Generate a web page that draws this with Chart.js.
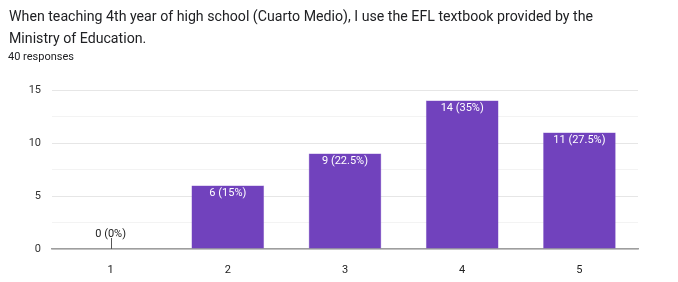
<!DOCTYPE html>
<html>
<head>
<meta charset="utf-8">
<script src="https://cdn.jsdelivr.net/npm/chart.js@4/dist/chart.umd.min.js"></script>
<style>
  html, body { margin: 0; padding: 0; background: #fff; }
  #wrap { position: relative; width: 678px; height: 282px; overflow: hidden; }
  #chart { position: absolute; left: 0; top: 0; }
  .head { position: absolute; left: 9px; font-family: Roboto, sans-serif; color: #202124;
          white-space: nowrap; transform-origin: 0 0; }
  #q1 { top: 8px; font-size: 14.5px; line-height: 18px; }
  #q2 { top: 30px; font-size: 14.5px; line-height: 18px; }
  #resp { top: 50px; left: 8px; font-size: 11px; line-height: 14px; }
</style>
</head>
<body>
<div id="wrap">
  <canvas id="chart" width="678" height="282"></canvas>
  <div class="head" id="q1">When teaching 4th year of high school (Cuarto Medio), I use the EFL textbook provided by the</div>
  <div class="head" id="q2">Ministry of Education.</div>
  <div class="head" id="resp">40 responses</div>
</div>
<script>
// answers on the 1-5 scale and how many people picked each
const categories = ['1', '2', '3', '4', '5'];
const counts = [0, 6, 9, 14, 11];
const percents = ['0%', '15%', '22.5%', '35%', '27.5%'];
const yTicks = [0, 5, 10, 15];

const BAR_COLOR = '#7142bd';
const FONT = 'Roboto, sans-serif';

// fit the question text to the width it has in the screenshot
const q1 = document.getElementById('q1');
const sx = 584 / q1.getBoundingClientRect().width;
['q1', 'q2'].forEach(id => {
  document.getElementById(id).style.transform = 'scaleX(' + sx + ')';
});

// value labels: inside bar top in white, above the axis for empty bars
const barLabels = {
  id: 'barLabels',
  afterDatasetsDraw(chart) {
    const ctx = chart.ctx;
    const meta = chart.getDatasetMeta(0);
    ctx.save();
    ctx.font = '11px ' + FONT;
    ctx.textAlign = 'center';
    ctx.textBaseline = 'middle';
    meta.data.forEach((bar, i) => {
      const text = counts[i] + ' (' + percents[i] + ')';
      if (counts[i] === 0) {
        ctx.strokeStyle = '#555';
        ctx.lineWidth = 1;
        ctx.beginPath();
        ctx.moveTo(Math.round(bar.x) + 0.5, bar.y);
        ctx.lineTo(Math.round(bar.x) + 0.5, bar.y - 11);
        ctx.stroke();
        ctx.fillStyle = '#222';
        ctx.fillText(text, bar.x, bar.y - 15);
      } else {
        ctx.fillStyle = '#fff';
        ctx.fillText(text, bar.x, bar.y + 8);
      }
    });
    ctx.restore();
  }
};

new Chart(document.getElementById('chart'), {
  type: 'bar',
  data: {
    labels: categories,
    datasets: [{
      data: counts,
      backgroundColor: BAR_COLOR,
      borderColor: '#8a66cc',
      borderWidth: 0.5,
      barPercentage: 0.62,
      categoryPercentage: 1
    }]
  },
  options: {
    responsive: false,
    animation: false,
    layout: { padding: { top: 90, right: 40, left: 0, bottom: 0 } },
    plugins: { legend: { display: false }, tooltip: { enabled: false } },
    scales: {
      x: {
        grid: { display: false },
        border: { color: '#9e9e9e', width: 1.5 },
        ticks: { color: '#222', font: { family: FONT, size: 11 }, padding: 7 },
        afterFit: s => { s.height = 33; }
      },
      y: {
        min: 0,
        max: 15,
        afterBuildTicks: s => {
          s.ticks = [0, 2.5, 5, 7.5, 10, 12.5, 15].map(v => ({ value: v }));
        },
        ticks: {
          color: '#333',
          font: { family: FONT, size: 11 },
          padding: 11,
          callback: v => (yTicks.includes(v) ? String(v) : '')
        },
        grid: {
          drawTicks: false,
          color: c => (yTicks.includes(c.tick.value) ? '#e6e6e6' : '#f3f3f3')
        },
        border: { display: false },
        afterFit: s => { s.width = 52; }
      }
    }
  },
  plugins: [barLabels]
});
</script>
</body>
</html>
